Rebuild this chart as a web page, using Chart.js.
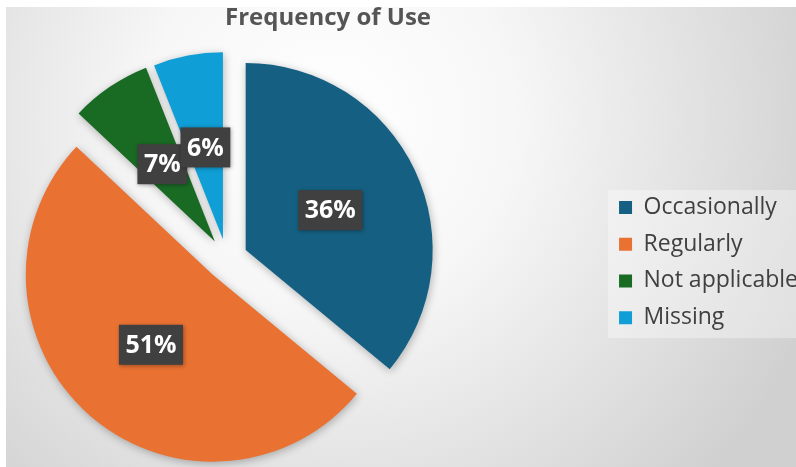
<!DOCTYPE html>
<html>
<head>
<meta charset="utf-8">
<script src="https://cdn.jsdelivr.net/npm/chart.js@4.4.1/dist/chart.umd.min.js"></script>
<style>
	html, body { margin: 0; padding: 0; background: #fff; }
	#stage { position: relative; width: 796px; height: 467px; overflow: hidden; background: #fff; }
	#bg {
		position: absolute; left: 6px; top: 7px; right: 0; bottom: 0;
		background: radial-gradient(ellipse 520px 520px at 324px 113px, #ffffff 0%, #f7f7f7 35%, #d0d0d0 100%);
	}
	#pieChart { position: absolute; left: -152px; top: 0; }
</style>
</head>
<body>
<div id="stage">
	<div id="bg"></div>
	<canvas id="pieChart" width="960" height="496"></canvas>
</div>
<script>
const categories = ['Occasionally', 'Regularly', 'Not applicable', 'Missing'];
const shares = [36, 51, 7, 6];
const sliceColors = ['#156082', '#E97132', '#196B24', '#0F9ED5'];
const explodePx = [21, 21, 21, 20];

// pulls every slice out along its own middle angle, like Excel's point explosion
const explodePlugin = {
	id: 'explode',
	afterDatasetsUpdate(chart) {
		const meta = chart.getDatasetMeta(0);
		meta.data.forEach((arc, i) => {
			const mid = (arc.startAngle + arc.endAngle) / 2;
			const d = explodePx[i] || 0;
			arc.x += Math.cos(mid) * d;
			arc.y += Math.sin(mid) * d;
		});
	},
};

// legend backdrop, soft shadow under slices, dark value boxes
const sliceLabelPlugin = {
	id: 'sliceLabels',
	beforeDraw(chart) {
		const legend = chart.legend;
		if (!legend || !legend.legendHitBoxes.length) return;
		const boxes = legend.legendHitBoxes;
		const first = boxes[0];
		const last = boxes[boxes.length - 1];
		const ctx = chart.ctx;
		ctx.save();
		ctx.fillStyle = 'rgba(255,255,255,0.35)';
		const top = first.top - 6;
		const bottom = last.top + last.height + 9;
		ctx.fillRect(first.left - 11, top, chart.width - first.left + 11, bottom - top);
		ctx.restore();
	},
	beforeDatasetsDraw(chart) {
		const ctx = chart.ctx;
		ctx.save();
		ctx.shadowColor = 'rgba(0,0,0,0.28)';
		ctx.shadowBlur = 9;
		ctx.shadowOffsetX = 1;
		ctx.shadowOffsetY = 2;
	},
	afterDatasetsDraw(chart) {
		const ctx = chart.ctx;
		ctx.restore();
		const meta = chart.getDatasetMeta(0);
		ctx.save();
		ctx.font = 'bold 25px "Open Sans", sans-serif';
		ctx.textAlign = 'center';
		ctx.textBaseline = 'middle';
		meta.data.forEach((arc, i) => {
			const { x, y } = arc.getCenterPoint();
			const text = `${shares[i]}%`;
			const w = ctx.measureText(text).width + 13;
			const h = 40;
			ctx.shadowColor = 'rgba(0,0,0,0.35)';
			ctx.shadowBlur = 4;
			ctx.shadowOffsetX = 1;
			ctx.shadowOffsetY = 1;
			ctx.fillStyle = '#404040';
			ctx.fillRect(x - w / 2, y - h / 2, w, h);
			ctx.shadowColor = 'transparent';
			ctx.fillStyle = '#ffffff';
			ctx.fillText(text, x, y + 1);
		});
		ctx.restore();
	},
};

const canvas = document.querySelector('#pieChart');

new Chart(canvas.getContext('2d'), {
	type: 'pie',
	data: {
		labels: categories,
		datasets: [{
			data: shares,
			backgroundColor: sliceColors,
			borderWidth: 0,
		}],
	},
	options: {
		responsive: false,
		animation: false,
		radius: 187,
		layout: { padding: { bottom: 21 } },
		plugins: {
			tooltip: { enabled: false },
			title: {
				display: true,
				text: 'Frequency of Use',
				color: '#555555',
				font: { family: 'Open Sans', size: 24, weight: 'bold' },
				padding: { top: 4, bottom: 10 },
			},
			legend: {
				position: 'right',
				title: { display: true, text: ' ', font: { size: 1 }, padding: { top: 49, bottom: 0 } },
				labels: {
					boxWidth: 13,
					boxHeight: 13,
					padding: 13.7,
					color: '#404040',
					font: { family: 'Open Sans', size: 23 },
				},
			},
		},
	},
	plugins: [explodePlugin, sliceLabelPlugin],
});
</script>
</body>
</html>
